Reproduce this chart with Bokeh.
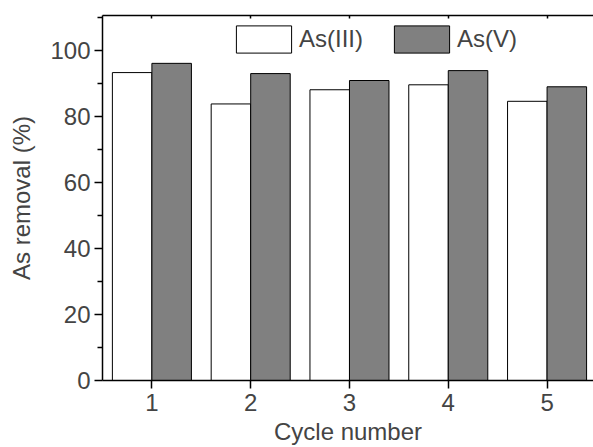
from bokeh.plotting import figure
from bokeh.models import ColumnDataSource, LinearAxis, Legend, LegendItem, FixedTicker
from bokeh.transform import dodge
from bokeh.embed import file_html
from bokeh.resources import INLINE

cycles = [1, 2, 3, 4, 5]
as_iii = [93.3, 83.8, 88.1, 89.6, 84.6]
as_v = [96.1, 93.0, 90.9, 93.9, 89.0]
series_names = ["As(III)", "As(V)"]
x_ticks = [1, 2, 3, 4, 5]
y_ticks = [0, 20, 40, 60, 80, 100]
y_minor = [10, 30, 50, 70, 90, 110]
x_title = "Cycle number"
y_title = "As removal (%)"

FONT = "Liberation Sans"
FS = "24px"

src = ColumnDataSource(dict(cycle=cycles, iii=as_iii, v=as_v))

p = figure(width=593, height=447, output_backend="svg", toolbar_location=None,
           x_range=(0.5, 5.47), y_range=(0, 110.6),
           min_border_left=102, min_border_right=0, min_border_top=15, min_border_bottom=67,
           x_axis_location=None, y_axis_location=None)
p.outline_line_color = None
p.xgrid.visible = False
p.ygrid.visible = False
p.background_fill_color = "white"
p.border_fill_color = "white"

r1 = p.vbar(x=dodge("cycle", -0.2, range=p.x_range), top="iii", width=0.4, source=src,
            fill_color="white", line_color="black", line_width=1)
r2 = p.vbar(x=dodge("cycle", 0.2, range=p.x_range), top="v", width=0.4, source=src,
            fill_color="#808080", line_color="black", line_width=1)

# left axis
ya = LinearAxis(ticker=FixedTicker(ticks=y_ticks, minor_ticks=y_minor))
ya.axis_label = y_title
ya.axis_label_text_font = FONT
ya.axis_label_text_font_size = FS
ya.axis_label_text_font_style = "normal"
ya.axis_label_standoff = 12
ya.major_label_text_font = FONT
ya.major_label_text_font_size = FS
ya.major_label_standoff = 4
ya.major_tick_out = 8
ya.major_tick_in = 0
ya.minor_tick_out = 5
ya.minor_tick_in = 0
ya.axis_line_width = 1.5
ya.major_tick_line_width = 1.5
ya.minor_tick_line_width = 1.5
p.add_layout(ya, "left")

# bottom axis
xa = LinearAxis(ticker=FixedTicker(ticks=x_ticks, minor_ticks=[]))
xa.axis_label = x_title
xa.axis_label_text_font = FONT
xa.axis_label_text_font_size = FS
xa.axis_label_text_font_style = "normal"
xa.axis_label_standoff = 4
xa.major_label_text_font = FONT
xa.major_label_text_font_size = FS
xa.major_label_standoff = 5
xa.major_tick_out = 8
xa.major_tick_in = 0
xa.axis_line_width = 1.5
xa.major_tick_line_width = 1.5
p.add_layout(xa, "below")

# top axis (no labels)
ta = LinearAxis(ticker=FixedTicker(ticks=x_ticks, minor_ticks=[]))
ta.major_label_overrides = {t: "" for t in x_ticks}
ta.major_label_standoff = 0
ta.major_tick_out = 0
ta.major_tick_in = 3
ta.axis_line_width = 1.5
ta.major_tick_line_width = 1.5
p.add_layout(ta, "above")

legend = Legend(items=[LegendItem(label=series_names[0], renderers=[r1]),
                       LegendItem(label=series_names[1], renderers=[r2])],
                orientation="horizontal", location=(127, 324))
legend.border_line_color = None
legend.background_fill_alpha = 0
legend.label_text_font = FONT
legend.label_text_font_size = FS
legend.glyph_width = 69
legend.glyph_height = 34
legend.label_standoff = 1
legend.spacing = 24
legend.padding = 0
legend.margin = 0
legend.label_height = 34
p.add_layout(legend)

open("out.html", "w").write(file_html(p, INLINE))
